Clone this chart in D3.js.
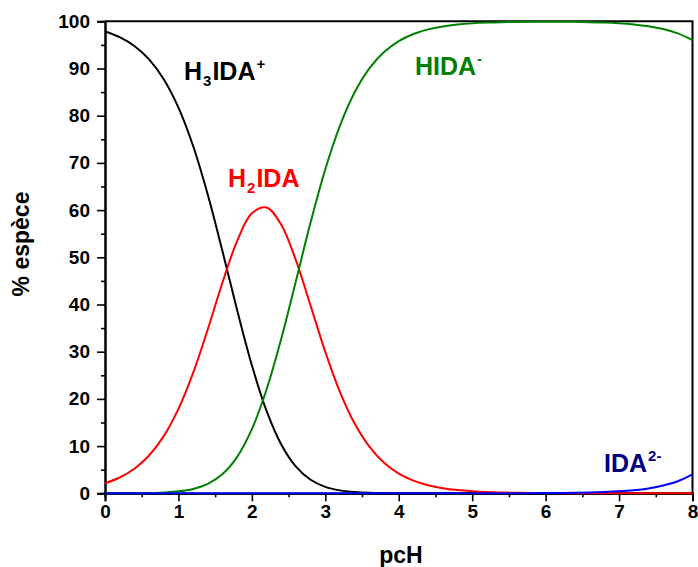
<!DOCTYPE html>
<html>
<head>
<meta charset="utf-8">
<script src="https://cdn.jsdelivr.net/npm/d3@7"></script>
<style>
  html, body { margin: 0; padding: 0; background: #fff; }
  svg { display: block; font-family: "Liberation Sans", Arial, sans-serif; }
</style>
</head>
<body>
<svg id="chart" width="698" height="567"></svg>
<script>
// pcH sample points
const pcH = [0,0.2,0.4,0.6,0.8,1.0,1.2,1.4,1.6,1.8,2.0,2.2,2.4,2.6,2.8,3.0,3.2,3.4,3.6,3.8,
             4.0,4.2,4.4,4.6,4.8,5.0,5.2,5.4,5.6,5.8,6.0,6.2,6.4,6.6,6.8,7.0,7.2,7.4,7.6,7.8,8.0];
// % species
const H3IDA = [97.85,96.64,94.76,91.92,87.72,81.71,73.57,63.24,51.27,38.76,27.11,17.46,10.35,5.66,2.88,1.37,0.62,0.27,0.11,0.05,
               0.02,0.01,0,0,0,0,0,0,0,0,0,0,0,0,0,0,0,0,0,0,0];
const H2IDA = [2.14,3.35,5.21,8.01,12.11,17.88,25.51,34.76,44.66,53.50,59.31,60.55,56.90,49.34,39.72,29.97,21.46,14.77,9.87,6.47,
               4.18,2.68,1.71,1.085,0.687,0.435,0.27,0.17,0.11,0.069,0.044,0.028,0.017,0.011,0.007,0.004,0.003,0.002,0.001,0.001,0];
const HIDA  = [0.005,0.012,0.03,0.07,0.18,0.41,0.93,2.00,4.07,7.73,13.59,21.98,32.74,45.00,57.41,68.66,77.92,84.97,90.02,93.48,
               95.80,97.31,98.29,98.91,99.31,99.56,99.72,99.82,99.87,99.90,99.91,99.91,99.88,99.82,99.73,99.58,99.34,98.96,98.37,97.44,96.00];
const IDA   = [0,0,0,0,0,0,0,0,0,0,0,0,0,0,0,0,0,0,0,0,
               0,0.0006,0.001,0.0016,0.003,0.004,0.007,0.01,0.017,0.026,0.042,0.066,0.105,0.166,0.262,0.415,0.656,1.036,1.633,2.563,4.00];
const xTicks = [0,1,2,3,4,5,6,7,8];
const xMinor = [0.5,1.5,2.5,3.5,4.5,5.5,6.5,7.5];
const yTicks = [0,10,20,30,40,50,60,70,80,90,100];
const yMinor = [5,15,25,35,45,55,65,75,85,95];

const svg = d3.select("#chart");
const x = d3.scaleLinear().domain([0, 8]).range([105, 692.5]);
const y = d3.scaleLinear().domain([0, 100]).range([493.3, 21.3]);

// frame (top & right)
svg.append("path")
  .attr("d", `M${x(0)},${y(100)}H${x(8)}V${y(0)}`)
  .attr("fill", "none").attr("stroke", "#000").attr("stroke-width", 2);

function styleAxis(g) {
  g.select(".domain").attr("stroke", "#000").attr("stroke-width", 2);
  g.selectAll(".tick line").attr("stroke", "#000").attr("stroke-width", 1.6);
}

// x axis
const gx = svg.append("g").attr("transform", `translate(0,${y(0)})`)
  .call(d3.axisBottom(x).tickValues(xTicks).tickSize(8).tickPadding(3).tickFormat(d3.format("d")));
styleAxis(gx);
gx.selectAll("text").attr("font-size", 19).attr("font-weight", "bold").attr("fill", "#000")
  .attr("font-family", "'Liberation Sans', Arial, sans-serif");
const gxm = svg.append("g").attr("transform", `translate(0,${y(0)})`)
  .call(d3.axisBottom(x).tickValues(xMinor).tickSize(4).tickFormat(""));
styleAxis(gxm);

// y axis
const gy = svg.append("g").attr("transform", `translate(${x(0)},0)`)
  .call(d3.axisLeft(y).tickValues(yTicks).tickSize(8).tickPadding(7).tickFormat(d3.format("d")));
styleAxis(gy);
gy.selectAll("text").attr("font-size", 19).attr("font-weight", "bold").attr("fill", "#000")
  .attr("font-family", "'Liberation Sans', Arial, sans-serif");
const gym = svg.append("g").attr("transform", `translate(${x(0)},0)`)
  .call(d3.axisLeft(y).tickValues(yMinor).tickSize(4).tickFormat(""));
styleAxis(gym);

// axis titles
svg.append("text").attr("x", 401).attr("y", 563)
  .attr("text-anchor", "middle").attr("font-size", 23).attr("font-weight", "bold").text("pcH");
svg.append("text").attr("transform", `translate(29,244) rotate(-90)`)
  .attr("text-anchor", "middle").attr("font-size", 23).attr("font-weight", "bold").text("% espèce");

// curves
const series = [
  { name: "H3IDA", vals: H3IDA, color: "#000000" },
  { name: "H2IDA", vals: H2IDA, color: "#ff0000" },
  { name: "HIDA", vals: HIDA, color: "#008000" },
  { name: "IDA", vals: IDA, color: "#0000ff" }
];
const line = d3.line().x(d => x(d[0])).y(d => y(d[1])).curve(d3.curveCatmullRom.alpha(0.5));
series.forEach(s => {
  svg.append("path")
    .datum(pcH.map((p, i) => [p, s.vals[i]]))
    .attr("d", line)
    .attr("fill", "none").attr("stroke", s.color).attr("stroke-width", 2);
});

// species labels
function label(xp, yp, color, parts) {
  const t = svg.append("text").attr("x", xp).attr("y", yp)
    .attr("font-size", 25).attr("font-weight", "bold").attr("fill", color);
  parts.forEach(p => {
    const ts = t.append("tspan").text(p.t);
    if (p.sub) ts.attr("font-size", 15).attr("dy", 6).attr("dx", 1);
    if (p.sup) ts.attr("font-size", 15).attr("dy", -11).attr("dx", 1);
    if (p.back) ts.attr("dy", p.back).attr("dx", 1);
  });
}
label(184, 80, "#000000", [{ t: "H" }, { t: "3", sub: true }, { t: "IDA", back: -6 }, { t: "+", sup: true }]);
label(228, 187, "#ff0000", [{ t: "H" }, { t: "2", sub: true }, { t: "IDA", back: -6 }]);
label(415, 75, "#008000", [{ t: "HIDA" }, { t: "-", sup: true }]);
label(604, 472, "#000080", [{ t: "IDA" }, { t: "2-", sup: true }]);
</script>
</body>
</html>
